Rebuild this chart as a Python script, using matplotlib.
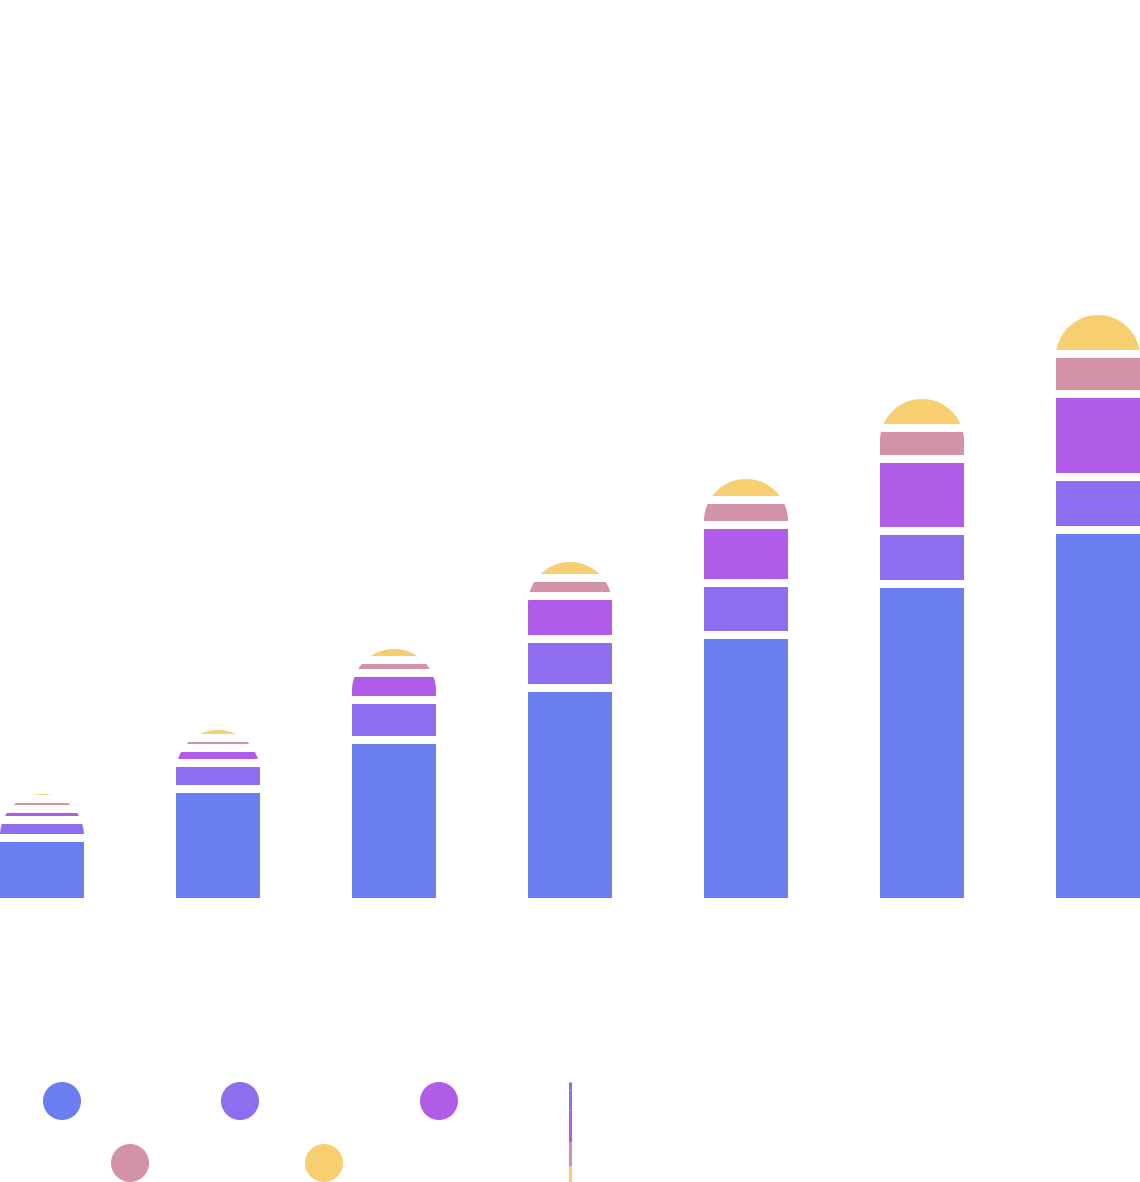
import numpy as np
import matplotlib
matplotlib.use("Agg")
import matplotlib.pyplot as plt
from matplotlib.path import Path
from matplotlib.patches import PathPatch, Circle

# segment values (1 unit ~ 1 px)
categories = [0, 1, 2, 3, 4, 5, 6]
series_a = [60, 109, 158, 210, 263, 314, 368]
series_b = [18, 26, 40, 49, 52, 53, 53]
series_c = [11, 15, 27, 43, 58, 72, 83]
series_d = [10, 10, 13, 18, 25, 31, 40]
series_e = [5, 8, 11, 16, 21, 29, 39]

colors = ["#6b7ef0", "#8e6eee", "#b05ce8", "#d293a7", "#f7ce70"]

W, H = 1140, 1182
base_px = 898
bar_px = 84
step_px = 176
radius_px = 42
gap_px = 8

fig = plt.figure(figsize=(W / 100, H / 100), dpi=100)
ax = fig.add_axes([0, (H - base_px) / H, 1, base_px / H])
ax.set_xlim(-(bar_px / 2) / step_px, (W - bar_px / 2) / step_px)
ax.set_ylim(0, base_px)
ax.axis("off")

width = bar_px / step_px
series = [series_a, series_b, series_c, series_d, series_e]
bottoms = np.zeros(len(categories))
bars = []
for vals, col in zip(series, colors):
    b = ax.bar(categories, vals, width=width, bottom=bottoms, color=col, linewidth=0)
    bars.append(b)
    bottoms = bottoms + np.array(vals)
tops = bottoms

# rounded top of each stack
t = np.linspace(0, np.pi, 80)
for i, x in enumerate(categories):
    x0 = x - width / 2
    cy = tops[i] - radius_px
    verts = [(x0, 0), (x0 + width, 0), (x0 + width, cy)]
    verts += list(zip(x + (width / 2) * np.cos(t), cy + radius_px * np.sin(t)))
    verts += [(x0, cy), (x0, 0)]
    codes = [Path.MOVETO] + [Path.LINETO] * (len(verts) - 2) + [Path.CLOSEPOLY]
    clip = PathPatch(Path(verts, codes), transform=ax.transData, facecolor="none")
    for b in bars:
        b[i].set_clip_path(clip)

# white gaps between segments
cum = np.zeros(len(categories))
for vals in series[:-1]:
    cum = cum + np.array(vals)
    ax.hlines(cum, np.array(categories) - width / 2 - 0.01, np.array(categories) + width / 2 + 0.01,
              colors="white", linewidth=gap_px * 0.72)

# legend markers
lax = fig.add_axes([0, 0, 1, 1])
lax.set_xlim(0, W)
lax.set_ylim(H, 0)
lax.axis("off")
legend_pos = [(62, 1101), (240, 1101), (439, 1101), (130, 1163), (324, 1163)]
for (cx, cy), col in zip(legend_pos, colors):
    lax.add_patch(Circle((cx, cy), 19, color=col, linewidth=0))

# thin scroll-like strip
strip = [(1082, 1090), (1090, 1110), (1110, 1142), (1142, 1166), (1166, 1182)]
for (y0, y1), col in zip(strip, colors):
    lax.plot([570, 570], [y0, y1], color=col, linewidth=2.2, solid_capstyle="butt")

fig.savefig("out.png", dpi=100)
